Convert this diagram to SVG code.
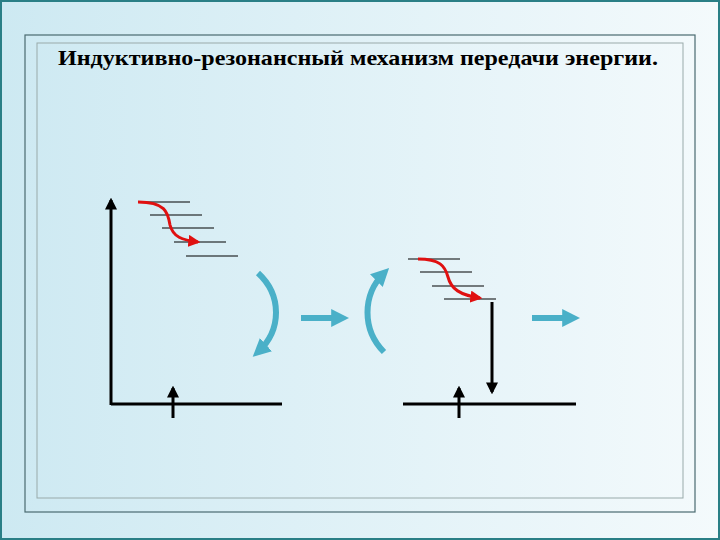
<svg xmlns="http://www.w3.org/2000/svg" width="720" height="540" viewBox="0 0 720 540">
<defs>
<linearGradient id="bg" x1="0" y1="0" x2="1" y2="0"><stop offset="0" stop-color="#cde9f2"/><stop offset="1" stop-color="#f4fafc"/></linearGradient>
<marker id="ak" viewBox="0 0 10 10" refX="8" refY="5" markerWidth="4" markerHeight="4" orient="auto"><path d="M0,0L10,5L0,10z" fill="#000"/></marker>
<marker id="ar" viewBox="0 0 10 10" refX="8" refY="5" markerWidth="4" markerHeight="4" orient="auto"><path d="M0,0L10,5L0,10z" fill="#e01010"/></marker>
<marker id="ab" viewBox="0 0 10 10" refX="6" refY="5" markerWidth="3" markerHeight="3" orient="auto"><path d="M0,0L10,5L0,10z" fill="#4ab0c8"/></marker>
</defs>
<style>
.lv{stroke:#000;stroke-width:1.2}
.ax{stroke:#000;stroke-width:3;fill:none}
.red{stroke:#e01010;stroke-width:3;fill:none}
.blue{stroke:#4ab0c8;stroke-width:6;fill:none}
</style>
<rect width="720" height="540" fill="url(#bg)"/>
<rect x="1" y="1" width="718" height="538" fill="none" stroke="#2a7f86" stroke-width="2"/>
<rect x="25" y="35" width="670" height="477" fill="none" stroke="#4a6a70" stroke-width="1.2"/>
<rect x="37" y="43" width="646" height="455" fill="none" stroke="#9aa" stroke-width="1"/>
<text x="58" y="65" font-family="Liberation Serif, serif" font-weight="bold" font-size="22" textLength="600" lengthAdjust="spacingAndGlyphs">Индуктивно-резонансный механизм передачи энергии.</text>
<g id="donor">
<path class="ax" d="M111,405V200" marker-end="url(#ak)"/>
<path class="ax" d="M111,404H282"/>
<path class="ax" d="M173,418V388" marker-end="url(#ak)"/>
<path class="lv" d="M140,202H190M150,215H202M162,228H214M174,242H226M186,256H238"/>
<path class="red" d="M138,202C165,202 168,212 170,225C173,237 182,240 198,242" marker-end="url(#ar)"/>
</g>
<g id="acceptor">
<path class="ax" d="M403,404H576"/>
<path class="ax" d="M459,418V388" marker-end="url(#ak)"/>
<path class="lv" d="M408,259H460M420,272H472M432,286H484M444,299H496"/>
<path class="red" d="M418,259C440,259 445,266 448,277C451,289 460,295 480,298" marker-end="url(#ar)"/>
<path class="ax" d="M492,302V392" marker-end="url(#ak)"/>
</g>
<g id="connectors">
<path class="blue" d="M258,273C282,295 282,330 258,352" marker-end="url(#ab)"/>
<path class="blue" d="M384,352C362,330 362,295 384,273" marker-end="url(#ab)"/>
<path class="blue" d="M301,318H342" marker-end="url(#ab)"/>
<path class="blue" d="M532,318H573" marker-end="url(#ab)"/>
</g>
</svg>
